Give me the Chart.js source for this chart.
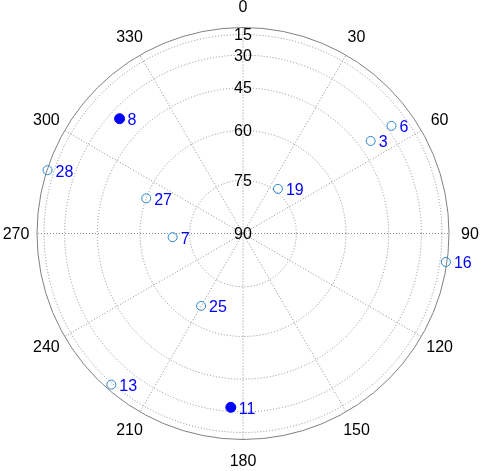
<!DOCTYPE html>
<html>
<head>
<meta charset="utf-8">
<script src="https://cdn.jsdelivr.net/npm/chart.js@4"></script>
<style>
  body { margin: 0; background: #fff; }
  #wrap { width: 480px; height: 471px; }
</style>
</head>
<body>
<div id="wrap"><canvas id="sky"></canvas></div>
<script>
// satellite sky plot: azimuth clockwise from north, elevation 90 at centre
const prns = [8, 6, 3, 28, 19, 27, 7, 16, 25, 13, 11];
const azimuths = [313, 54, 54, 288, 38, 290, 267, 98, 210, 221, 184];
const elevations = [35, 27, 40, 4, 74, 60, 70, 6, 66, 13, 32];
const tracked = [true, false, false, false, false, false, false, false, false, false, true];

const azTicks = [0, 30, 60, 90, 120, 150, 180, 210, 240, 270, 300, 330];
const elTicks = [15, 30, 45, 60, 75, 90];

const rad = d => d * Math.PI / 180;
const toXY = (az, el) => ({ x: Math.cos(rad(el)) * Math.sin(rad(az)), y: Math.cos(rad(el)) * Math.cos(rad(az)) });

const pts = prns.map((p, i) => toXY(azimuths[i], elevations[i]));

const polarGrid = {
  id: 'polarGrid',
  beforeDatasetsDraw(chart) {
    const ctx = chart.ctx;
    const xs = chart.scales.x, ys = chart.scales.y;
    const cx = xs.getPixelForValue(0), cy = ys.getPixelForValue(0);
    const R = xs.getPixelForValue(1) - cx;
    ctx.save();
    ctx.strokeStyle = '#8c8c8c';
    ctx.lineWidth = 1;
    ctx.setLineDash([1, 2]);
    elTicks.forEach(e => {
      if (e === 90) return;
      ctx.beginPath();
      ctx.arc(cx, cy, R * Math.cos(rad(e)), 0, 2 * Math.PI);
      ctx.stroke();
    });
    azTicks.forEach(a => {
      ctx.beginPath();
      ctx.moveTo(cx, cy);
      ctx.lineTo(cx + R * Math.sin(rad(a)), cy - R * Math.cos(rad(a)));
      ctx.stroke();
    });
    ctx.setLineDash([]);
    ctx.strokeStyle = '#808080';
    ctx.beginPath();
    ctx.arc(cx, cy, R, 0, 2 * Math.PI);
    ctx.stroke();

    ctx.fillStyle = '#000';
    ctx.font = '16px "Liberation Sans", Arial, sans-serif';
    ctx.textAlign = 'center';
    ctx.textBaseline = 'middle';
    azTicks.forEach(a => {
      const d = R + 21;
      ctx.fillText(String(a), cx + d * Math.sin(rad(a)), cy - d * Math.cos(rad(a)) + 1);
    });
    elTicks.forEach(e => {
      ctx.fillText(String(e), cx, cy - R * Math.cos(rad(e)) + 1);
    });
    ctx.restore();
  },
  afterDatasetsDraw(chart) {
    const ctx = chart.ctx;
    const meta = chart.getDatasetMeta(0);
    ctx.save();
    ctx.fillStyle = '#0000ff';
    ctx.font = '16px "Liberation Sans", Arial, sans-serif';
    ctx.textAlign = 'left';
    ctx.textBaseline = 'middle';
    meta.data.forEach((pt, i) => {
      ctx.fillText(String(prns[i]), pt.x + 8, pt.y + 2);
    });
    ctx.restore();
  }
};

new Chart(document.getElementById('sky'), {
  type: 'scatter',
  data: {
    datasets: [{
      label: 'PRN',
      data: pts,
      clip: false,
      pointRadius: tracked.map(t => t ? 5 : 4.5),
      pointBackgroundColor: tracked.map(t => t ? '#0000ff' : 'rgba(0,0,0,0)'),
      pointBorderColor: tracked.map(t => t ? '#0000ff' : '#2a86d1'),
      pointBorderWidth: 1
    }]
  },
  options: {
    responsive: true,
    maintainAspectRatio: false,
    animation: false,
    layout: { padding: { left: 37, right: 31, top: 28, bottom: 32 } },
    scales: {
      x: { type: 'linear', min: -1, max: 1, display: false },
      y: { type: 'linear', min: -1, max: 1, display: false }
    },
    plugins: { legend: { display: false }, tooltip: { enabled: false } }
  },
  plugins: [polarGrid]
});
</script>
</body>
</html>
